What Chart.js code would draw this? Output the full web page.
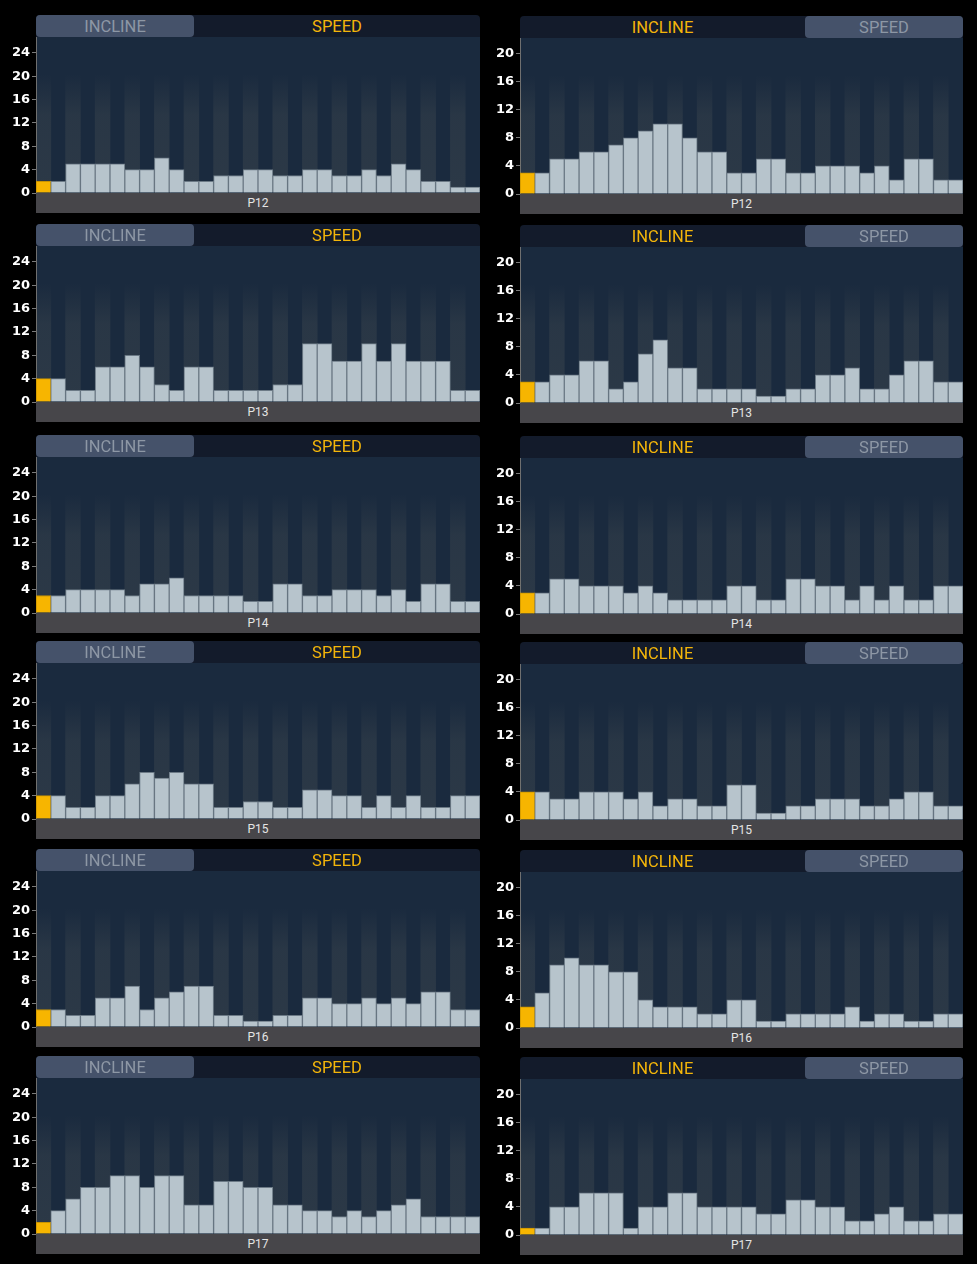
<!DOCTYPE html>
<html>
<head>
<meta charset="utf-8">
<script src="https://cdn.jsdelivr.net/npm/chart.js@4.4.1/dist/chart.umd.min.js"></script>
<style>
html, body { margin:0; padding:0; background:#000; width:977px; height:1264px; overflow:hidden; }
.head { position:absolute; height:22px; background:#131b2b; border-radius:4px 4px 0 0; font-family:Roboto, sans-serif; font-size:16.5px; }
.tab { position:absolute; top:0; height:22px; line-height:24px; text-align:center; }
.tab.on { color:#f3b50a; }
.tab.off { color:#8d97a5; background:#45526a; border-radius:4px; }
.foot { position:absolute; height:20px; background:#47464a; color:#e4e4e4; font-family:Roboto, sans-serif; font-size:12px; text-align:center; line-height:21px; }
canvas { position:absolute; }
</style>
</head>
<body>
<script>
// segment numbers (30 per program)
const segments = [1,2,3,4,5,6,7,8,9,10,11,12,13,14,15,16,17,18,19,20,21,22,23,24,25,26,27,28,29,30];
const programs = ['P12','P13','P14','P15','P16','P17'];

// speed profiles
const speed12 = [2,2,5,5,5,5,4,4,6,4,2,2,3,3,4,4,3,3,4,4,3,3,4,3,5,4,2,2,1,1];
const speed13 = [4,4,2,2,6,6,8,6,3,2,6,6,2,2,2,2,3,3,10,10,7,7,10,7,10,7,7,7,2,2];
const speed14 = [3,3,4,4,4,4,3,5,5,6,3,3,3,3,2,2,5,5,3,3,4,4,4,3,4,2,5,5,2,2];
const speed15 = [4,4,2,2,4,4,6,8,7,8,6,6,2,2,3,3,2,2,5,5,4,4,2,4,2,4,2,2,4,4];
const speed16 = [3,3,2,2,5,5,7,3,5,6,7,7,2,2,1,1,2,2,5,5,4,4,5,4,5,4,6,6,3,3];
const speed17 = [2,4,6,8,8,10,10,8,10,10,5,5,9,9,8,8,5,5,4,4,3,4,3,4,5,6,3,3,3,3];

// incline profiles
const incline12 = [3,3,5,5,6,6,7,8,9,10,10,8,6,6,3,3,5,5,3,3,4,4,4,3,4,2,5,5,2,2];
const incline13 = [3,3,4,4,6,6,2,3,7,9,5,5,2,2,2,2,1,1,2,2,4,4,5,2,2,4,6,6,3,3];
const incline14 = [3,3,5,5,4,4,4,3,4,3,2,2,2,2,4,4,2,2,5,5,4,4,2,4,2,4,2,2,4,4];
const incline15 = [4,4,3,3,4,4,4,3,4,2,3,3,2,2,5,5,1,1,2,2,3,3,3,2,2,3,4,4,2,2];
const incline16 = [3,5,9,10,9,9,8,8,4,3,3,3,2,2,4,4,1,1,2,2,2,2,3,1,2,2,1,1,2,2];
const incline17 = [1,1,4,4,6,6,6,1,4,4,6,6,4,4,4,4,3,3,5,5,4,4,2,2,3,4,2,2,3,3];

const speedTicks   = [0,4,8,12,16,20,24];
const inclineTicks = [0,4,8,12,16,20];

const speedSets   = [speed12, speed13, speed14, speed15, speed16, speed17];
const inclineSets = [incline12, incline13, incline14, incline15, incline16, incline17];

// layout
const rowTops = [15, 224, 435, 641, 849, 1056];
const HEAD = 22, PLOT = 156, FOOT = 20, AXIS = 36;

const plotBg = {
  id: 'plotBg',
  beforeDraw(chart) {
    const a = chart.chartArea;
    const c = chart.ctx;
    c.save();
    c.fillStyle = '#1a2a3e';
    c.fillRect(a.left, a.top, a.right - a.left, a.bottom - a.top);
    c.restore();
  }
};

function stripeFill(ctx) {
  const chart = ctx.chart;
  const a = chart.chartArea;
  if (!a) return 'rgba(0,0,0,0)';
  const g = chart.ctx.createLinearGradient(0, a.top, 0, a.bottom);
  g.addColorStop(0, 'rgba(120,120,108,0)');
  g.addColorStop(0.24, 'rgba(120,120,108,0)');
  g.addColorStop(0.5, 'rgba(120,120,108,0.16)');
  g.addColorStop(1, 'rgba(120,120,108,0.19)');
  return g;
}

function addHeader(left, top, width, speedActive) {
  const head = document.createElement('div');
  head.className = 'head';
  head.style.left = left + 'px';
  head.style.top = top + 'px';
  head.style.width = width + 'px';
  const tabW = Math.round(width * 0.356);
  if (speedActive) {
    head.innerHTML =
      '<div class="tab off" style="left:0;width:' + tabW + 'px">INCLINE</div>' +
      '<div class="tab on" style="left:' + tabW + 'px;width:' + (width - tabW) + 'px">SPEED</div>';
  } else {
    head.innerHTML =
      '<div class="tab on" style="left:0;width:' + (width - tabW) + 'px">INCLINE</div>' +
      '<div class="tab off" style="left:' + (width - tabW) + 'px;width:' + tabW + 'px">SPEED</div>';
  }
  document.body.appendChild(head);
}

function addFooter(left, top, width, name) {
  const f = document.createElement('div');
  f.className = 'foot';
  f.style.left = left + 'px';
  f.style.top = top + 'px';
  f.style.width = width + 'px';
  f.textContent = name;
  document.body.appendChild(f);
}

function makePanel(left, top, width, values, ticks, max, name, speedActive) {
  addHeader(left, top, width, speedActive);

  const cv = document.createElement('canvas');
  cv.width = width + AXIS;
  cv.height = PLOT + FOOT;
  cv.style.left = (left - AXIS) + 'px';
  cv.style.top = (top + HEAD) + 'px';
  cv.style.width = cv.width + 'px';
  cv.style.height = cv.height + 'px';
  document.body.appendChild(cv);

  const stripes = segments.map((s, i) => (i % 2 === 0 ? max : null));

  new Chart(cv, {
    type: 'bar',
    data: {
      labels: segments,
      datasets: [
        {
          data: values,
          backgroundColor: values.map((v, i) => (i === 0 ? '#f7b500' : '#b7c4cc')),
          borderColor: values.map((v, i) => (i === 0 ? '#c99300' : '#6c7a86')),
          borderWidth: 1,
          barPercentage: 1,
          categoryPercentage: 1,
          grouped: false,
          order: 0
        },
        {
          data: stripes,
          backgroundColor: stripeFill,
          borderWidth: 0,
          barPercentage: 1,
          categoryPercentage: 1,
          grouped: false,
          order: 1
        }
      ]
    },
    options: {
      responsive: false,
      animation: false,
      events: [],
      layout: { padding: { top: 0, right: 0, bottom: FOOT, left: 0 } },
      plugins: { legend: { display: false }, tooltip: { enabled: false } },
      scales: {
        x: { display: false },
        y: {
          min: 0,
          max: max,
          afterBuildTicks: (scale) => { scale.ticks = ticks.map(v => ({ value: v })); },
          afterFit: (scale) => { scale.width = AXIS; scale.paddingTop = 0; scale.paddingBottom = 0; },
          grid: { drawOnChartArea: false, drawTicks: true, tickLength: 4, color: '#7a7a7a' },
          border: { display: true, color: '#6f6f6f', width: 1 },
          ticks: {
            color: '#ffffff',
            padding: 2,
            font: { family: "'DejaVu Sans', sans-serif", size: 13, weight: 'bold' }
          }
        }
      }
    },
    plugins: [plotBg]
  });

  addFooter(left, top + HEAD + PLOT, width, name);
}

programs.forEach((name, r) => {
  makePanel(36, rowTops[r], 444, speedSets[r], speedTicks, 26.7, name, true);
  makePanel(520, rowTops[r] + 1, 443, inclineSets[r], inclineTicks, 22.2, name, false);
});
</script>
</body>
</html>
